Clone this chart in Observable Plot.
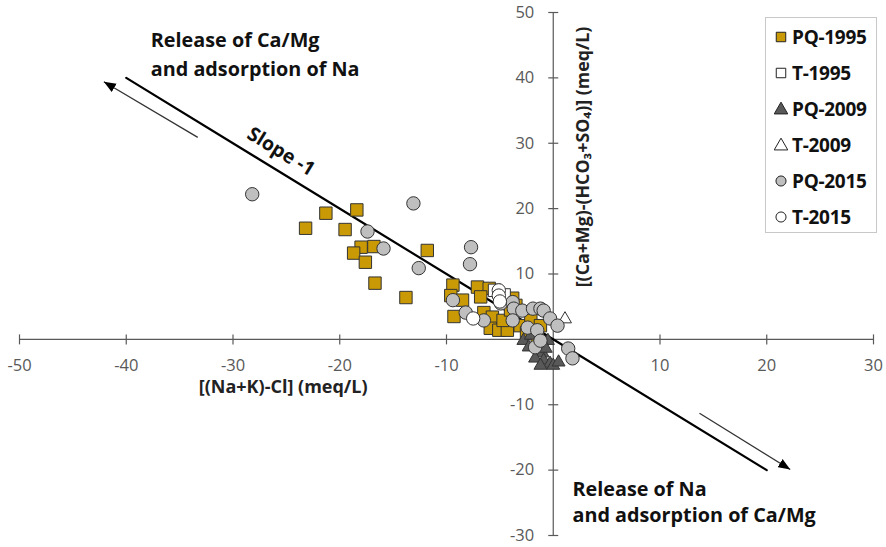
<!DOCTYPE html>
<html>
<head>
<meta charset="utf-8">
<script src="https://cdn.jsdelivr.net/npm/d3@7"></script>
<script src="https://cdn.jsdelivr.net/npm/@observablehq/plot@0.6"></script>
<style>
  body { margin: 0; background: #fff; }
  #chart { position: relative; width: 886px; height: 547px; font-family: "Open Sans", Lato, sans-serif; }
  #legend { position: absolute; left: 765px; top: 17px; width: 112px; height: 216px;
            border: 1px solid #c8c8c8; box-sizing: border-box; background: #fff; }
  .item { position: absolute; left: 8px; height: 22px; display: flex; align-items: center;
          font-weight: 700; font-size: 19px; color: #111; white-space: nowrap; letter-spacing: -0.3px; }
  .item svg { margin-right: 4px; }
</style>
</head>
<body>
<div id="chart"></div>
<script>
// Axis ticks (0 is left unlabeled at the crossing)
const xTicks = [-50, -40, -30, -20, -10, 10, 20, 30];
const yTicks = [50, 40, 30, 20, 10, -10, -20, -30];

// Series names, in drawing order
const seriesNames = ["PQ-1995", "T-1995", "PQ-2009", "T-2009", "PQ-2015", "T-2015"];

// [(Na+K)-Cl], [(Ca+Mg)-(HCO3+SO4)] in meq/L
const pq1995 = [
  [-23.2, 17.0], [-21.3, 19.3], [-18.4, 19.8], [-19.5, 16.8], [-18.0, 14.1], [-16.8, 14.2],
  [-18.7, 13.2], [-17.6, 11.8], [-16.7, 8.6], [-13.8, 6.4], [-11.8, 13.6], [-9.4, 8.3],
  [-9.6, 6.7], [-8.5, 6.0], [-9.3, 3.5], [-7.1, 8.0], [-6.0, 7.8], [-6.8, 6.5],
  [-6.5, 4.1], [-5.7, 3.4], [-5.9, 1.7], [-5.1, 1.4], [-4.3, 1.4], [-4.7, 2.9],
  [-3.8, 6.3], [-3.5, 5.2], [-4.0, 4.5], [-3.1, 2.1], [-2.1, 2.9], [-1.2, 2.1],
  [-2.5, 1.0], [-1.5, 0.5]
];
const t1995 = [[-5.5, 7.5], [-4.6, 6.8]];
const pq2009 = [
  [-2.8, -0.2], [-2.3, -1.2], [-1.0, -2.1], [-0.9, -3.2], [-0.3, -3.7], [0.0, -4.0],
  [-0.5, -0.2], [0.5, -3.5], [-1.7, -2.9], [-1.2, -4.0], [-2.1, 0.6], [-0.7, -1.4]
];
const t2009 = [[1.1, 3.1]];
const pq2015 = [
  [-28.2, 22.2], [-13.1, 20.8], [-17.4, 16.5], [-15.9, 13.9], [-12.6, 10.9], [-9.4, 6.0],
  [-7.7, 14.1], [-7.8, 11.5], [-8.2, 4.1], [-6.5, 2.9], [-4.9, 5.5], [-3.8, 5.7],
  [-3.7, 4.7], [-2.9, 4.4], [-1.9, 4.7], [-1.2, 4.7], [-0.9, 4.4], [-0.3, 3.2],
  [0.4, 2.1], [-3.8, 2.9], [-2.4, 1.8], [-1.5, 1.4], [-1.7, -1.2], [-1.2, -0.2],
  [1.4, -1.4], [1.8, -2.9]
];
const t2015 = [[-7.5, 3.2], [-5.1, 7.5], [-5.1, 6.7], [-5.0, 5.8]];

// Reference line of slope -1 and the two direction arrows beside it
const slopeLine = [[-40, 40], [20, -20]];
const arrows = [
  {x1: -33.3, y1: 30.9, x2: -42.1, y2: 39.4},
  {x1: 13.7, y1: -11.3, x2: 22.2, y2: -19.9}
];

// Text annotations
const noteUpper = [{x: -37.7, y: 43.9, text: "Release of Ca/Mg\nand adsorption of Na"}];
const noteLower = [{x: 1.8, y: -24.7, text: "Release of Na\nand adsorption of Ca/Mg"}];
const slopeNote = [{x: -25.5, y: 28.7, text: "Slope -1"}];
const xTitle = "[(Na+K)-Cl] (meq/L)";
const yTitle = "[(Ca+Mg)-(HCO\u2083+SO\u2084)] (meq/L)";

// Marker styling per series
const styles = {
  "PQ-1995": {symbol: "square", fill: "#C99A06", r: 7.0},
  "T-1995":  {symbol: "square", fill: "#ffffff", r: 7.0},
  "PQ-2009": {symbol: "triangle", fill: "#595959", r: 4.8},
  "T-2009":  {symbol: "triangle", fill: "#ffffff", r: 4.8},
  "PQ-2015": {symbol: "circle", fill: "#BFBFBF", r: 6.7},
  "T-2015":  {symbol: "circle", fill: "#ffffff", r: 6.7}
};
const seriesData = {
  "PQ-1995": pq1995, "T-1995": t1995, "PQ-2009": pq2009,
  "T-2009": t2009, "PQ-2015": pq2015, "T-2015": t2015
};

// Short crossing tick marks drawn as custom symbols
const vTick = {draw(ctx, size) { const r = Math.sqrt(size / Math.PI); ctx.moveTo(0, -r); ctx.lineTo(0, r); }};
const hTick = {draw(ctx, size) { const r = Math.sqrt(size / Math.PI); ctx.moveTo(-r, 0); ctx.lineTo(r, 0); }};

// Filled triangular arrowhead
function headMarker() {
  const ns = "http://www.w3.org/2000/svg";
  const m = document.createElementNS(ns, "marker");
  m.setAttribute("viewBox", "-12 -5 12 10");
  m.setAttribute("markerWidth", 12);
  m.setAttribute("markerHeight", 10);
  m.setAttribute("refX", 0);
  m.setAttribute("refY", 0);
  m.setAttribute("orient", "auto");
  m.setAttribute("markerUnits", "userSpaceOnUse");
  const p = document.createElementNS(ns, "path");
  p.setAttribute("d", "M-12,-4.8L0,0L-12,4.8Z");
  p.setAttribute("fill", "#000");
  p.setAttribute("stroke", "none");
  m.appendChild(p);
  return m;
}

const axisColor = "#595959";

const pointMarks = seriesNames.map(name => Plot.dot(seriesData[name], {
  x: d => d[0], y: d => d[1],
  symbol: styles[name].symbol, r: styles[name].r,
  fill: styles[name].fill, stroke: "#333", strokeWidth: 1
}));

const chart = Plot.plot({
  width: 886, height: 547,
  marginLeft: 19, marginRight: 13, marginTop: 12, marginBottom: 12,
  x: {domain: [-50, 30], axis: null},
  y: {domain: [-30, 50], axis: null},
  style: {fontFamily: "'Open Sans', Lato, sans-serif", background: "#fff", overflow: "visible"},
  marks: [
    Plot.ruleY([0], {x1: -50, x2: 30, stroke: axisColor, strokeWidth: 1.2}),
    Plot.ruleX([0], {y1: -30, y2: 50, stroke: axisColor, strokeWidth: 1.2}),
    Plot.dot(xTicks, {x: d => d, y: 0, symbol: vTick, r: 5, fill: "none", stroke: axisColor, strokeWidth: 1.2}),
    Plot.dot(yTicks, {x: 0, y: d => d, symbol: hTick, r: 5, fill: "none", stroke: axisColor, strokeWidth: 1.2}),
    Plot.text(xTicks, {x: d => d, y: 0, dy: 26, text: d => String(d), fontSize: 16.5, fill: axisColor}),
    Plot.text(yTicks, {x: 0, y: d => d, dx: -19, textAnchor: "end", text: d => String(d), fontSize: 16.5, fill: axisColor}),
    Plot.text([xTitle], {x: -25.3, y: -7.35, text: d => d, fontSize: 18, fontWeight: 700, fill: "#222"}),
    Plot.text([yTitle], {x: 2.8, y: 27.9, text: d => d, rotate: -90, fontSize: 17.8, fontWeight: 700, fill: "#222"}),
    Plot.line(slopeLine, {x: d => d[0], y: d => d[1], stroke: "#000", strokeWidth: 2.2}),
    Plot.link(arrows, {x1: "x1", y1: "y1", x2: "x2", y2: "y2", stroke: "#333", strokeWidth: 1.3, markerEnd: headMarker}),
    Plot.text(noteUpper, {x: "x", y: "y", text: "text", textAnchor: "start", lineAnchor: "middle",
      lineHeight: 1.45, fontSize: 19.8, fontWeight: 700, fill: "#111"}),
    Plot.text(noteLower, {x: "x", y: "y", text: "text", textAnchor: "start", lineAnchor: "middle",
      lineHeight: 1.3, fontSize: 19.8, fontWeight: 700, fill: "#111"}),
    Plot.text(slopeNote, {x: "x", y: "y", text: "text", rotate: 31.5, fontSize: 19.5, fontWeight: 700, fill: "#111"}),
    ...pointMarks
  ]
});

const root = document.getElementById("chart");
root.appendChild(chart);

// Legend box
const legend = document.createElement("div");
legend.id = "legend";
const symbolTypes = {square: d3.symbolSquare, triangle: d3.symbolTriangle, circle: d3.symbolCircle};
seriesNames.forEach((name, i) => {
  const st = styles[name];
  const item = document.createElement("div");
  item.className = "item";
  item.style.top = (8 + i * 36) + "px";
  const size = st.symbol === "triangle" ? 80 : st.symbol === "square" ? 90 : 80;
  const path = d3.symbol(symbolTypes[st.symbol], size)();
  item.innerHTML = `<svg width="14" height="14"><path d="${path}" transform="translate(7,${st.symbol === "triangle" ? 8 : 7})" fill="${st.fill}" stroke="#222" stroke-width="1"/></svg><span>${name}</span>`;
  legend.appendChild(item);
});
root.appendChild(legend);
</script>
</body>
</html>
